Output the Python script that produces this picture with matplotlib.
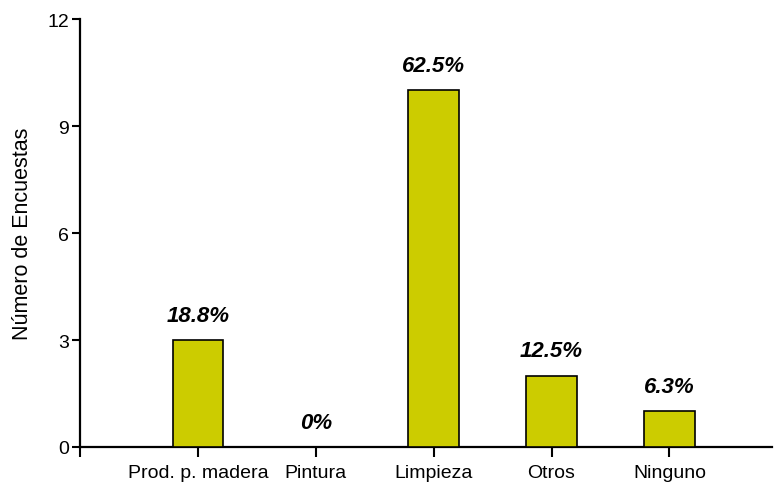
import matplotlib.pyplot as plt
import numpy as np

plt.rcParams['font.family'] = ['Liberation Sans', 'DejaVu Sans']

categorias = ["Prod. p. madera", "Pintura", "Limpieza", "Otros", "Ninguno"]
encuestas = [3, 0, 10, 2, 1]
porcentajes = ["18.8%", "0%", "62.5%", "12.5%", "6.3%"]
yticks = [0, 3, 6, 9, 12]

fig = plt.figure(figsize=(7.77, 4.85), dpi=100)
ax = fig.add_axes([80 / 777, 1 - 448 / 485, (772 - 80) / 777, (448 - 20) / 485])

x = np.arange(1, len(categorias) + 1)
ax.bar(x, encuestas, width=0.43, color="#cccc00", edgecolor="black", linewidth=1.2, zorder=3)

for xi, v, p in zip(x, encuestas, porcentajes):
    ax.text(xi, v + 0.4, p, ha="center", va="bottom", fontsize=16,
            fontweight="bold", fontstyle="italic")

ax.set_xlim(0, 5.87)
ax.set_ylim(0, 12)
ax.set_yticks(yticks)
ax.set_xticks(np.arange(0, len(categorias) + 1))
ax.set_xticklabels([""] + categorias, fontsize=14)
ax.tick_params(axis="y", labelsize=14, length=6, width=1.5, pad=2)
ax.tick_params(axis="x", length=7, width=1.5, pad=5)

for s in ["top", "right"]:
    ax.spines[s].set_visible(False)
for s in ["left", "bottom"]:
    ax.spines[s].set_linewidth(1.6)

ax.set_ylabel("Número de Encuestas", fontsize=15.5)
ax.yaxis.set_label_coords((33 - 80) / 692, 0.5)

fig.savefig("out.png", dpi=100)
